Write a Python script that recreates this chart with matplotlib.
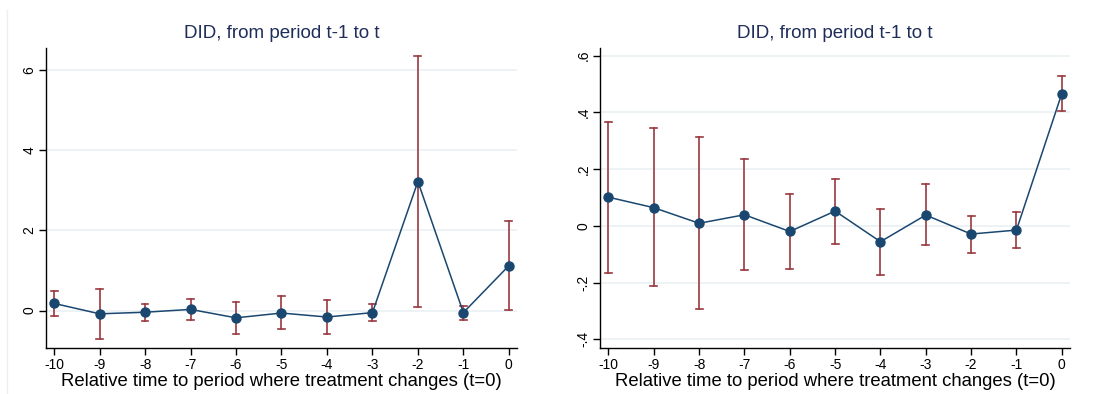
import matplotlib
matplotlib.use("Agg")
import matplotlib.pyplot as plt
from matplotlib.lines import Line2D

plt.rcParams['font.family'] = ['Liberation Sans', 'DejaVu Sans']

periods = [-10, -9, -8, -7, -6, -5, -4, -3, -2, -1, 0]

# left panel: point estimate and confidence bounds
left_est = [0.18, -0.08, -0.04, 0.03, -0.18, -0.06, -0.16, -0.05, 3.22, -0.05, 1.12]
left_hi = [0.50, 0.55, 0.17, 0.30, 0.22, 0.36, 0.26, 0.17, 6.34, 0.12, 2.24]
left_lo = [-0.13, -0.71, -0.26, -0.23, -0.58, -0.46, -0.58, -0.27, 0.09, -0.23, 0.02]
left_yticks = [0, 2, 4, 6]
left_ylabels = ['0', '2', '4', '6']

# right panel
right_est = [0.101, 0.064, 0.009, 0.039, -0.020, 0.052, -0.056, 0.038, -0.029, -0.015, 0.466]
right_hi = [0.366, 0.345, 0.312, 0.235, 0.113, 0.166, 0.060, 0.146, 0.036, 0.047, 0.528]
right_lo = [-0.165, -0.214, -0.294, -0.156, -0.153, -0.064, -0.173, -0.069, -0.095, -0.078, 0.405]
right_yticks = [-0.4, -0.2, 0, 0.2, 0.4, 0.6]
right_ylabels = ['-.4', '-.2', '0', '.2', '.4', '.6']

title = 'DID, from period t-1 to t'
xlabel = 'Relative time to period where treatment changes (t=0)'

navy = '#1a476f'
maroon = '#9a3a40'
grid_col = '#eaf0f2'


def draw(ax, est, lo, hi, yticks, ylabels, ylim):
    for x, l, h in zip(periods, lo, hi):
        ax.plot([x, x], [l, h], color=maroon, lw=1.2, zorder=2)
        ax.plot([x - 0.075, x + 0.075], [h, h], color=maroon, lw=1.2, zorder=2)
        ax.plot([x - 0.075, x + 0.075], [l, l], color=maroon, lw=1.2, zorder=2)
    ax.plot(periods, est, color=navy, lw=1.1, marker='o', ms=6.5, zorder=3)
    ax.set_xlim(-10.18, 0.18)
    ax.set_ylim(*ylim)
    ax.set_xticks(periods)
    ax.set_xticklabels([str(p) for p in periods], fontsize=10)
    ax.set_yticks(yticks)
    ax.set_yticklabels(ylabels, fontsize=10, rotation=90, va='center')
    ax.yaxis.grid(True, color=grid_col, lw=1.2)
    ax.set_axisbelow(True)
    for s in ['top', 'right']:
        ax.spines[s].set_visible(False)
    ax.spines['left'].set_linewidth(1.0)
    ax.spines['bottom'].set_linewidth(1.0)
    ax.tick_params(direction='out', length=5, width=1, pad=2)
    ax.set_title(title, fontsize=13.5, color='#1e2d5a', pad=7)
    ax.set_xlabel(xlabel, fontsize=13.3, labelpad=1)


fig = plt.figure(figsize=(10.94, 3.94), dpi=100)
ax1 = fig.add_axes([0.042, 0.116, 0.4306, 0.762])
ax2 = fig.add_axes([0.5487, 0.116, 0.4293, 0.762])

draw(ax1, left_est, left_lo, left_hi, left_yticks, left_ylabels, (-0.94, 6.55))
draw(ax2, right_est, right_lo, right_hi, right_yticks, right_ylabels, (-0.432, 0.627))

fig.add_artist(Line2D([0.0065, 0.0065], [0.0, 0.975], color='#eeeeee', lw=1))

fig.savefig('out.png', dpi=100)
